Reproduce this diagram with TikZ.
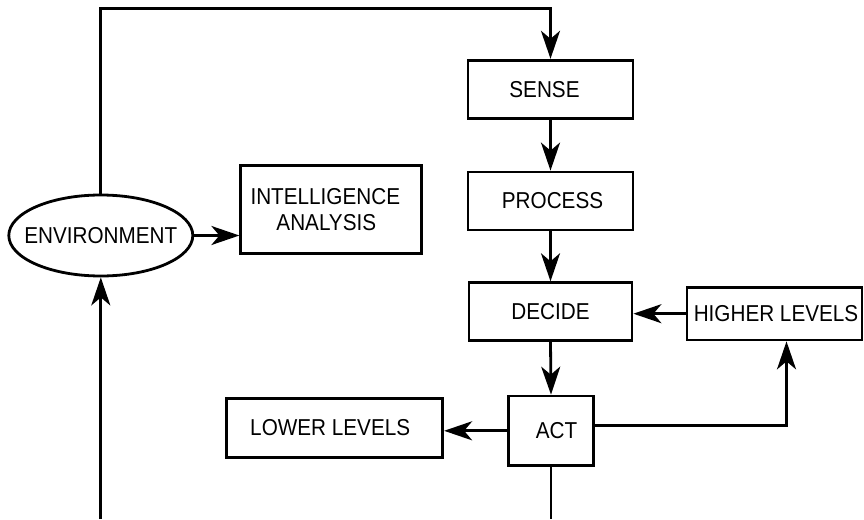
\documentclass[tikz,border=0pt]{standalone}
\usepackage{fontspec}
\setmainfont[FakeStretch=0.9]{Liberation Sans}
\usetikzlibrary{arrows.meta,shapes.geometric}
\begin{document}
\begin{tikzpicture}[x=1pt,y=-1pt,
  every node/.style={font=\fontsize{23}{25.7}\selectfont, inner sep=0pt},
  box/.style={draw, line width=2.8pt, rectangle, align=center},
  ell/.style={draw, line width=2.8pt, ellipse},
  conn/.style={line width=2.8pt},
  arr/.style={conn, -{Stealth[length=28pt,width=19pt,inset=8pt]}}]
\useasboundingbox (0,0) rectangle (864,519);
\node[box, minimum width=165pt, minimum height=58pt] (sense) at (550.5,89.2) {\hspace*{-12pt}SENSE};
\node[box, minimum width=165pt, minimum height=58pt] (process) at (550.5,201) {\hspace*{4pt}PROCESS};
\node[box, minimum width=163pt, minimum height=58pt] (decide) at (550.5,311.7) {DECIDE};
\node[box, minimum width=85pt, minimum height=69.5pt] (act) at (551,430.8) {\hspace*{11pt}ACT};
\node[box, minimum width=175pt, minimum height=52.5pt] (higher) at (774.5,313.7) {\hspace*{3pt}HIGHER LEVELS};
\node[box, minimum width=216pt, minimum height=59pt] (lower) at (334.7,427.8) {\hspace*{-9pt}LOWER LEVELS};
\node[box, minimum width=181pt, minimum height=88pt] (intel) at (331.3,209.8) {\hspace*{-12pt}INTELLIGENCE\\\hspace*{-10pt}ANALYSIS};
\node[ell, minimum width=184pt, minimum height=81pt] (env) at (100.8,235.5) {\makebox[0pt]{ENVIRONMENT}};
\coordinate (top) at (300,8.3);
\coordinate (envend) at (102,519);
\coordinate (actend) at (551.5,519);
\draw[arr] (env.north) |- (top) -| (sense.north);
\draw[arr] (env.east) -- (env.east -| intel.west);
\draw[arr] (sense.south) -- (process.north);
\draw[arr] (process.south) -- (decide.north);
\draw[arr] (decide.south) -- (act.north);
\draw[arr] (higher.west) -- (higher.west -| decide.east);
\draw[arr] ([yshift=5pt]act.east) -| ([xshift=12pt]higher.south);
\draw[arr] (act.west) -- (act.west -| lower.east);
\draw[conn] (act.south) -- (act.south |- actend);
\draw[arr] (env.south |- envend) -- (env.south);
\end{tikzpicture}
\end{document}
